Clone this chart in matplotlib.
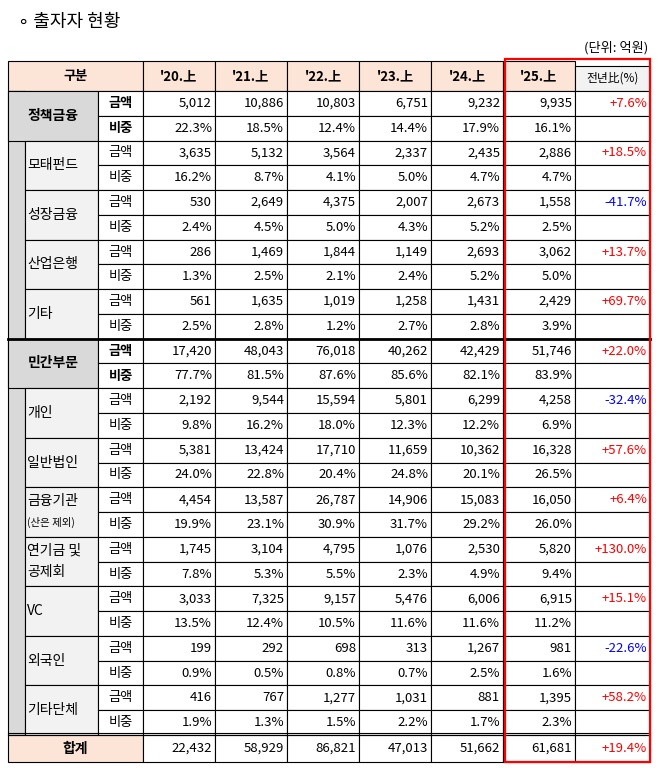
import matplotlib.pyplot as plt
from matplotlib.patches import Rectangle

plt.rcParams['font.family'] = ['Noto Sans CJK JP', 'Noto Sans CJK KR', 'Noto Sans CJK SC', 'DejaVu Sans']

years = ["'20.上", "'21.上", "'22.上", "'23.上", "'24.上", "'25.上"]
groups = ["정책금융", "모태펀드", "성장금융", "산업은행", "기타",
          "민간부문", "개인", "일반법인", "금융기관\n(산은 제외)", "연기금 및\n공제회", "VC", "외국인", "기타단체"]
is_main = [True, False, False, False, False, True, False, False, False, False, False, False, False]
amounts = [
    ["5,012", "10,886", "10,803", "6,751", "9,232", "9,935"],
    ["3,635", "5,132", "3,564", "2,337", "2,435", "2,886"],
    ["530", "2,649", "4,375", "2,007", "2,673", "1,558"],
    ["286", "1,469", "1,844", "1,149", "2,693", "3,062"],
    ["561", "1,635", "1,019", "1,258", "1,431", "2,429"],
    ["17,420", "48,043", "76,018", "40,262", "42,429", "51,746"],
    ["2,192", "9,544", "15,594", "5,801", "6,299", "4,258"],
    ["5,381", "13,424", "17,710", "11,659", "10,362", "16,328"],
    ["4,454", "13,587", "26,787", "14,906", "15,083", "16,050"],
    ["1,745", "3,104", "4,795", "1,076", "2,530", "5,820"],
    ["3,033", "7,325", "9,157", "5,476", "6,006", "6,915"],
    ["199", "292", "698", "313", "1,267", "981"],
    ["416", "767", "1,277", "1,031", "881", "1,395"],
]
shares = [
    ["22.3%", "18.5%", "12.4%", "14.4%", "17.9%", "16.1%"],
    ["16.2%", "8.7%", "4.1%", "5.0%", "4.7%", "4.7%"],
    ["2.4%", "4.5%", "5.0%", "4.3%", "5.2%", "2.5%"],
    ["1.3%", "2.5%", "2.1%", "2.4%", "5.2%", "5.0%"],
    ["2.5%", "2.8%", "1.2%", "2.7%", "2.8%", "3.9%"],
    ["77.7%", "81.5%", "87.6%", "85.6%", "82.1%", "83.9%"],
    ["9.8%", "16.2%", "18.0%", "12.3%", "12.2%", "6.9%"],
    ["24.0%", "22.8%", "20.4%", "24.8%", "20.1%", "26.5%"],
    ["19.9%", "23.1%", "30.9%", "31.7%", "29.2%", "26.0%"],
    ["7.8%", "5.3%", "5.5%", "2.3%", "4.9%", "9.4%"],
    ["13.5%", "12.4%", "10.5%", "11.6%", "11.6%", "11.2%"],
    ["0.9%", "0.5%", "0.8%", "0.7%", "2.5%", "1.6%"],
    ["1.9%", "1.3%", "1.5%", "2.2%", "1.7%", "2.3%"],
]
yoy = ["+7.6%", "+18.5%", "-41.7%", "+13.7%", "+69.7%", "+22.0%", "-32.4%",
       "+57.6%", "+6.4%", "+130.0%", "+15.1%", "-22.6%", "+58.2%"]
totals = ["22,432", "58,929", "86,821", "47,013", "51,662", "61,681"]
total_yoy = "+19.4%"

W, H = 660, 768
fig = plt.figure(figsize=(6.6, 7.68), dpi=100)
ax = fig.add_axes([0, 0, 1, 1])
ax.set_xlim(0, W)
ax.set_ylim(H, 0)
ax.axis('off')

xs = [8, 25, 98, 143, 215, 287, 359, 431, 503, 575, 650]
top, head_b = 61, 91
rh = 24.77
tot_t = head_b + rh * 26
tot_b = 762
peach = '#fce4d6'
fs = 9.5

def rect(x0, y0, x1, y1, fc, lw=0.8):
    ax.add_patch(Rectangle((x0, y0), x1 - x0, y1 - y0, facecolor=fc, edgecolor='black', lw=lw))

def txt(x, y, s, ha='center', **kw):
    ax.text(x, y, s, ha=ha, va='center', fontsize=kw.pop('size', fs), **kw)

txt(18, 22, "∘ 출자자 현황", ha='left', size=13)
txt(648, 48, "(단위: 억원)", ha='right', size=9.5)

# header
rect(xs[0], top, xs[3], head_b, peach)
txt((xs[0] + xs[3]) / 2, (top + head_b) / 2, "구분", weight='bold')
for i, yr in enumerate(years):
    rect(xs[3 + i], top, xs[4 + i], head_b, peach)
    txt((xs[3 + i] + xs[4 + i]) / 2, (top + head_b) / 2, yr, weight='bold')
rect(xs[9], top + 5, xs[10], head_b, '#f2f2f2')
txt((xs[9] + xs[10]) / 2, (top + head_b) / 2 + 2, "전년比(%)", size=8.5)

# gray side strip
ax.add_patch(Rectangle((xs[0], head_b), xs[1] - xs[0], tot_t - head_b, facecolor='#d9d9d9', edgecolor='black', lw=0.8))

for g, name in enumerate(groups):
    y0 = head_b + rh * 2 * g
    ym = y0 + rh
    y1 = y0 + 2 * rh
    bold = 'bold' if is_main[g] else 'normal'
    if is_main[g]:
        rect(xs[0], y0, xs[2], y1, '#d9d9d9')
        txt((xs[0] + xs[2]) / 2, ym, name, weight='bold', size=10)
    else:
        rect(xs[1], y0, xs[2], y1, '#f2f2f2')
        if '\n' in name:
            a, b = name.split('\n')
            txt(xs[1] + 2, y0 + rh * 0.55, a, ha='left', size=10)
            txt(xs[1] + 2, y0 + rh * 1.4, b, ha='left', size=10 if '및' in a else 7.5)
        else:
            txt(xs[1] + 2, ym, name, ha='left', size=10)
    for r, (lab, vals) in enumerate([("금액", amounts[g]), ("비중", shares[g])]):
        ya, yb = y0 + r * rh, y0 + (r + 1) * rh
        rect(xs[2], ya, xs[3], yb, 'white')
        txt((xs[2] + xs[3]) / 2, (ya + yb) / 2, lab, weight=bold)
        for i, v in enumerate(vals):
            rect(xs[3 + i], ya, xs[4 + i], yb, 'white')
            txt(xs[4 + i] - 3, (ya + yb) / 2, v, ha='right')
        rect(xs[9], ya, xs[10], yb, 'white')
        if r == 0:
            c = 'red' if yoy[g].startswith('+') else 'blue'
            txt(xs[10] - 3, (ya + yb) / 2, yoy[g], ha='right', color=c)

# section separators
ax.plot([xs[0], xs[10]], [head_b + rh * 10] * 2, color='black', lw=2)

# total row
rect(xs[0], tot_t, xs[3], tot_b, peach)
txt((xs[0] + xs[3]) / 2, (tot_t + tot_b) / 2, "합계", weight='bold', size=10)
for i, v in enumerate(totals):
    rect(xs[3 + i], tot_t, xs[4 + i], tot_b, 'white')
    txt(xs[4 + i] - 3, (tot_t + tot_b) / 2, v, ha='right')
rect(xs[9], tot_t, xs[10], tot_b, 'white')
txt(xs[10] - 3, (tot_t + tot_b) / 2, total_yoy, ha='right', color='red')
ax.plot([xs[0], xs[10]], [tot_t - 2] * 2, color='black', lw=0.8)
ax.plot([xs[0], xs[10]], [tot_t, tot_t], color='black', lw=0.8)

# red highlight box
ax.add_patch(Rectangle((505, 59), 145, 703, fill=False, edgecolor='red', lw=1.6, zorder=5))

fig.savefig('out.png', dpi=100)
